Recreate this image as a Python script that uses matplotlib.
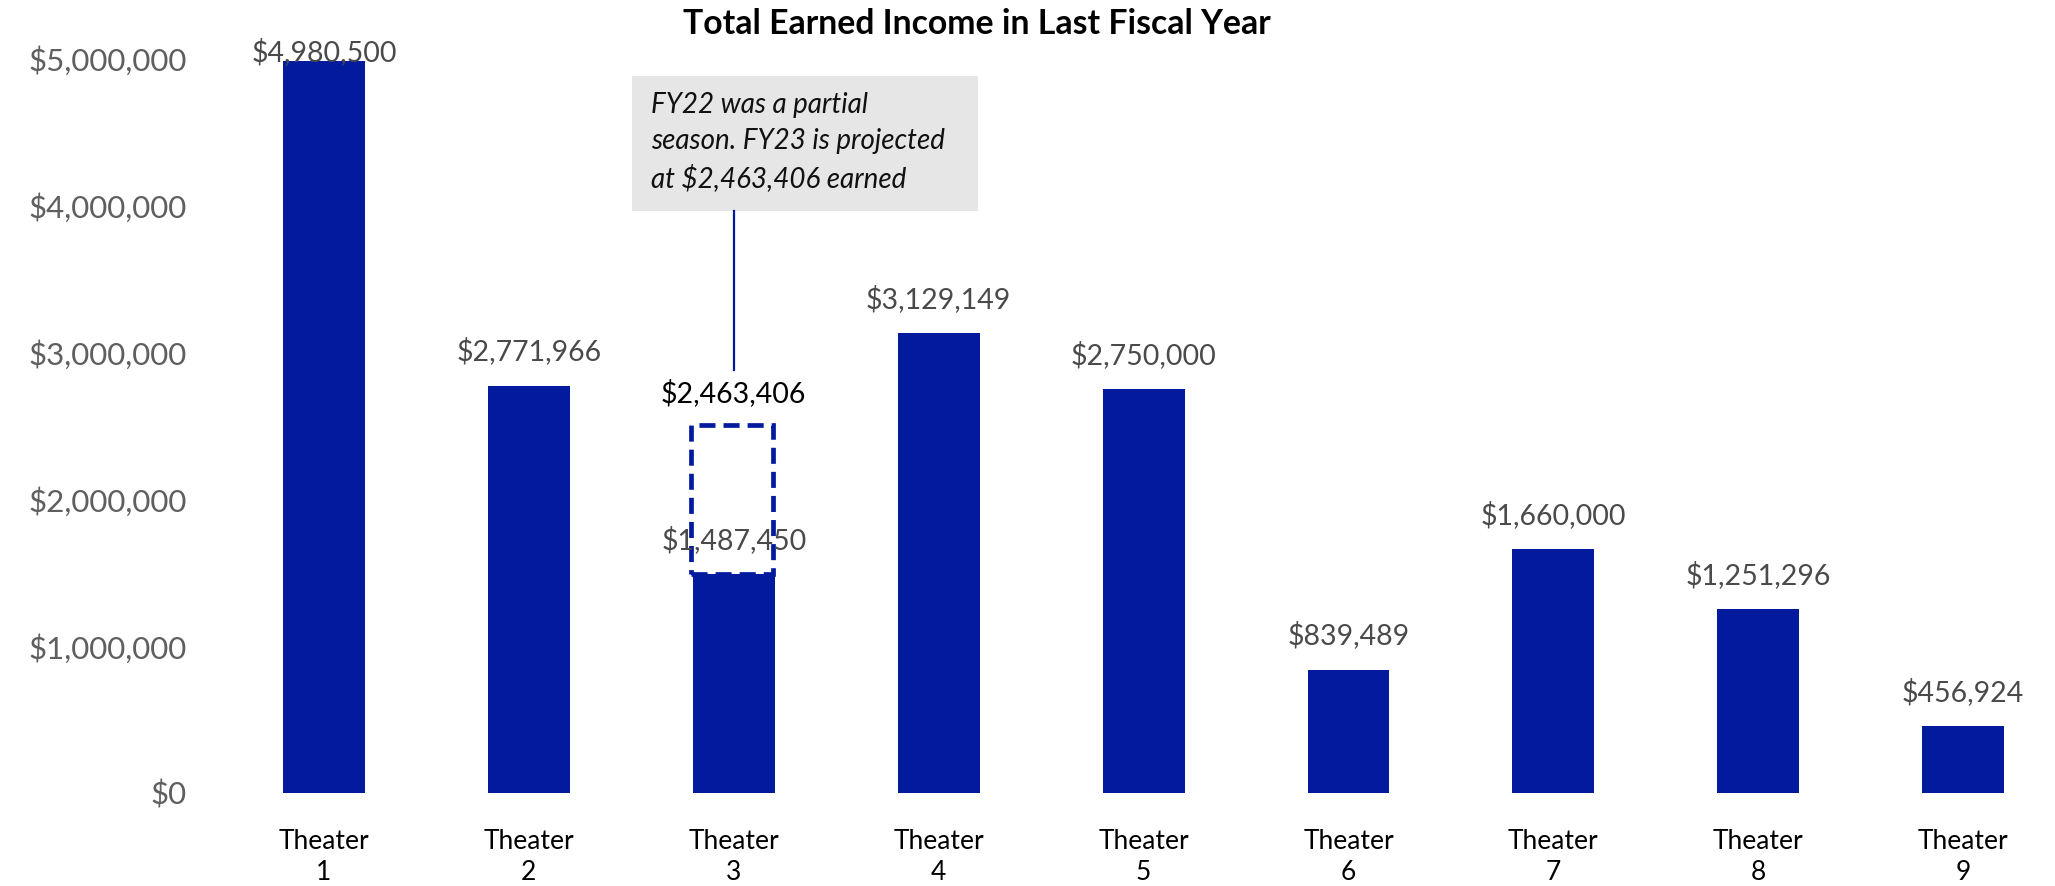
import matplotlib
matplotlib.use("Agg")
import matplotlib.pyplot as plt
from matplotlib.patches import Rectangle
from matplotlib.ticker import FuncFormatter

# ---- data ----
theaters = ["Theater\n1", "Theater\n2", "Theater\n3", "Theater\n4", "Theater\n5",
            "Theater\n6", "Theater\n7", "Theater\n8", "Theater\n9"]
earned = [4980500, 2771966, 1487450, 3129149, 2750000, 839489, 1660000, 1251296, 456924]
projected_idx = 2
projected_value = 2463406
y_ticks = [0, 1000000, 2000000, 3000000, 4000000, 5000000]
title = "Total Earned Income in Last Fiscal Year"
note = "FY22 was a partial\nseason. FY23 is projected\nat $2,463,406 earned"

# ---- style ----
BLUE = "#021b9e"
TICK_GRAY = "#5f5f5f"
LABEL_GRAY = "#4a4a4a"
FONT = ["Lato", "DejaVu Sans"]
plt.rcParams["font.family"] = FONT

W, H, DPI = 2055, 886, 100
fig = plt.figure(figsize=(W / DPI, H / DPI), dpi=DPI)

# axes placement in pixels
x0_px, x_unit_px = 324.0, 204.9          # centre of first bar, spacing between bars
y0_px, y_unit_px = 793.0, 147.0          # pixel row of $0, pixels per $1M
xlim = (-0.5, 8.45)
ylim = (0, 5.1e6)
left_px = x0_px + xlim[0] * x_unit_px
right_px = x0_px + xlim[1] * x_unit_px
top_px = y0_px - ylim[1] / 1e6 * y_unit_px
ax = fig.add_axes([left_px / W, (H - y0_px) / H,
                   (right_px - left_px) / W, (y0_px - top_px) / H])
ax.set_xlim(*xlim)
ax.set_ylim(*ylim)

x = list(range(len(theaters)))
bar_w = 0.4
ax.bar(x, earned, width=bar_w, color=BLUE, zorder=2)

# projected value outline for Theater 3
ax.add_patch(Rectangle((projected_idx - bar_w / 2 - 0.01, earned[projected_idx]),
                       bar_w, projected_value - earned[projected_idx] + 0.04e6,
                       fill=False, edgecolor=BLUE, linewidth=3.4,
                       linestyle=(0, (3.4, 1.7)), zorder=3, clip_on=False))

# value labels
label_off = 0.232e6
label_cap = 5.04e6
for xi, v in zip(x, earned):
    ax.text(xi, min(v + label_off, label_cap), f"${v:,}", ha="center", va="center",
            fontsize=20.5, color=LABEL_GRAY, zorder=4, clip_on=False)
ax.text(projected_idx, projected_value + 0.26e6, f"${projected_value:,}",
        ha="center", va="center", fontsize=20.5, color="black", zorder=4)

# note box with connector
box_x0, box_x1 = 1.503, 3.19
box_y0, box_y1 = 3.96e6, 4.875e6
ax.add_patch(Rectangle((box_x0, box_y0), box_x1 - box_x0, box_y1 - box_y0,
                       facecolor="#e6e6e6", edgecolor="none", zorder=1, clip_on=False))
ax.text(1.596, (box_y0 + box_y1) / 2 + 0.01e6, note, ha="left", va="center",
        fontsize=20, style="italic", color="#111111", linespacing=1.47, zorder=2)
ax.plot([projected_idx, projected_idx], [box_y0, 2.88e6], color=BLUE, linewidth=1.6,
        zorder=2)

# axes styling
for s in ax.spines.values():
    s.set_visible(False)
ax.set_yticks(y_ticks)
ax.yaxis.set_major_formatter(FuncFormatter(lambda v, p: f"${int(v):,}"))
ax.tick_params(axis="y", length=0, pad=25, labelsize=22.5, labelcolor=TICK_GRAY)
ax.set_xticks(x)
ax.set_xticklabels(theaters, linespacing=1.3)
ax.tick_params(axis="x", length=0, pad=26, labelsize=19, labelcolor="black")

fig.text(977 / W, 1 - 24 / H, title, ha="center", va="center",
         fontsize=24.3, fontweight="bold", color="black")

fig.savefig("out.png", dpi=DPI)
